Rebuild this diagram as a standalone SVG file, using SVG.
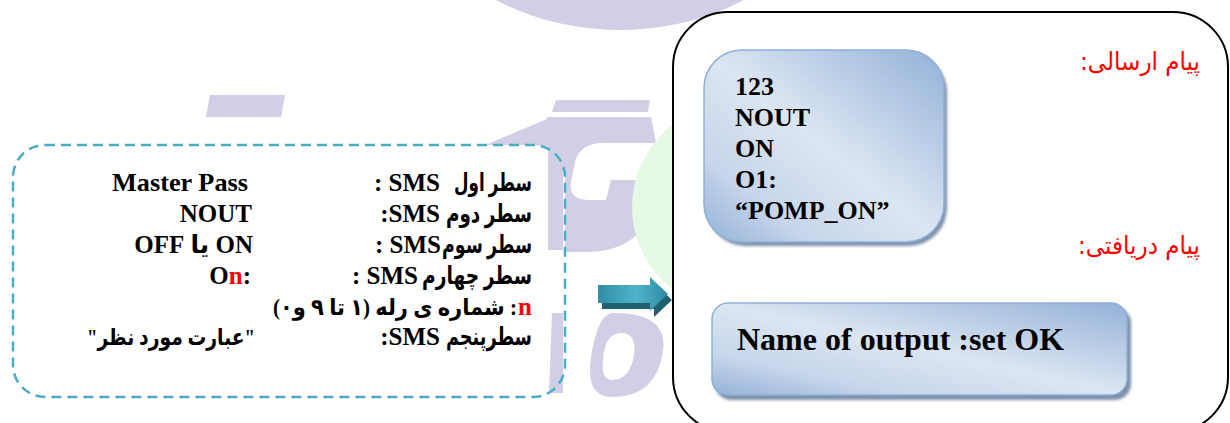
<svg xmlns="http://www.w3.org/2000/svg" width="1230" height="423" viewBox="0 0 1230 423">
  <defs>
    <style>
      .wm { fill: #d1cee5; }
      .wm-green { fill: #e6f9e4; }
      .lat { font-family: 'Liberation Serif', 'DejaVu Sans', serif; font-weight: bold; font-size: 25px; fill: #000; }
      .ar { font-family: 'Liberation Serif', 'DejaVu Sans', serif; font-weight: bold; font-size: 25px; fill: #000; direction: rtl; unicode-bidi: embed; }
      .ar-sm { font-size: 23px; }
      .lbl { font-family: 'DejaVu Sans', 'Liberation Sans', sans-serif; font-size: 25px; fill: #ff0000; direction: rtl; unicode-bidi: embed; }
      .red { fill: #ff0000; }
      .dash-box { fill: #ffffff; stroke: none; }
      .dash-line { fill: none; stroke: #4aadc6; stroke-width: 2.5; stroke-dasharray: 10 6; }
      .frame { fill: #ffffff; stroke: #000; stroke-width: 2; }
      .bubble { fill: url(#blueGrad); stroke: #8fb0d8; stroke-width: 1.5; }
      .shadow { fill: #7e90aa; filter: url(#soft); }
      .msg { font-family: 'Liberation Serif', serif; font-weight: bold; font-size: 26px; fill: #000; }
      .msg-lg { font-family: 'Liberation Serif', serif; font-weight: bold; font-size: 32px; fill: #000; }
    </style>
    <linearGradient id="blueGrad" x1="1" y1="0" x2="0" y2="1">
      <stop offset="0" stop-color="#93b1d8"/>
      <stop offset="0.5" stop-color="#dce6f2"/>
      <stop offset="0.78" stop-color="#c6d5ea"/>
      <stop offset="1" stop-color="#93b1d8"/>
    </linearGradient>
    <linearGradient id="arrowFace" x1="0" y1="0" x2="1" y2="0">
      <stop offset="0" stop-color="#2f8ea6"/>
      <stop offset="0.55" stop-color="#4fb4ca"/>
      <stop offset="1" stop-color="#2d8aa2"/>
    </linearGradient>
    <filter id="soft" x="-5%" y="-5%" width="110%" height="115%">
      <feGaussianBlur stdDeviation="1.5"/>
    </filter>
  </defs>

  <!-- faint background logo -->
  <g id="watermark">
    <ellipse class="wm" cx="620" cy="-160" rx="230" ry="190"/>
    <polygon class="wm" points="210,95 285,95 281,117 206,117"/>
    <polygon class="wm" points="556,100 650,100 648,112 552,112"/>
    <polygon class="wm" points="483,146 547,119 547,146"/>
    <path class="wm" d="M547,117 H651 L656,143 H603 Q580,143 575,162 L571,182 Q568,200 590,200 H606 L611,180 H658 L652,208 Q640,250 590,252 H562 L547,252 Z"/>
    <circle class="wm-green" cx="736" cy="207" r="104"/>
    <path class="wm" fill-rule="evenodd" d="M613,313 Q668,313 663,350 Q657,397 612,397 Q585,397 591,357 Q598,313 613,313 Z M621,333 Q605,333 603,360 Q601,380 612,380 Q630,380 634,355 Q637,333 621,333 Z"/>
  </g>

  <!-- SMS format description -->
  <g id="format-box">
    <rect class="dash-box" x="13" y="145" width="552" height="252" rx="32" ry="32"/>
    <!-- logo pieces showing through near the right edge -->
    <polygon class="wm" points="548,148 563,148 563,250 548,250"/>
    <polygon class="wm" points="552,313 563,313 563,393 549,393"/>
    <rect class="dash-line" x="13" y="145" width="552" height="252" rx="32" ry="32"/>

    <!-- values column -->
    <text class="lat" x="248" y="191" text-anchor="end" textLength="136" lengthAdjust="spacingAndGlyphs">Master Pass</text>
    <text class="lat" x="252" y="222" text-anchor="end">NOUT</text>
    <text class="ar" x="253" y="253" text-anchor="start">ON یا OFF</text>
    <text class="lat" x="251" y="284" text-anchor="end">O<tspan class="red">n</tspan>:</text>
    <text class="ar ar-sm" x="255" y="345" text-anchor="start" textLength="168" lengthAdjust="spacingAndGlyphs">"عبارت مورد نظر"</text>

    <!-- line names column -->
    <text class="ar" x="532" y="191" text-anchor="start" textLength="78" lengthAdjust="spacingAndGlyphs">سطر اول</text>
    <text class="lat" x="440" y="191" text-anchor="end">: SMS</text>

    <text class="ar" x="532" y="222" text-anchor="start" textLength="86" lengthAdjust="spacingAndGlyphs">سطر دوم</text>
    <text class="lat" x="440" y="222" text-anchor="end">:SMS</text>

    <text class="ar" x="532" y="253" text-anchor="start" textLength="90" lengthAdjust="spacingAndGlyphs">سطر سوم</text>
    <text class="lat" x="441" y="253" text-anchor="end">: SMS</text>

    <text class="ar" x="532" y="284" text-anchor="start" textLength="110" lengthAdjust="spacingAndGlyphs">سطر چهارم</text>
    <text class="lat" x="418" y="284" text-anchor="end">: SMS</text>

    <text class="lat red" x="532" y="315" text-anchor="end">n</text>
    <text class="ar ar-sm" x="517" y="315" text-anchor="start" textLength="244" lengthAdjust="spacingAndGlyphs">: شماره ی رله (۱ تا ۹ و۰)</text>

    <text class="ar" x="532" y="345" text-anchor="start" textLength="86" lengthAdjust="spacingAndGlyphs">سطرپنجم</text>
    <text class="lat" x="440" y="345" text-anchor="end">:SMS</text>
  </g>

  <g id="connectors">
    <!-- extruded block arrow -->
    <path d="M602,291 H654 V283 L672,300 L654,317 V309 H602 Z" fill="#22606f"/>
    <path d="M598,285 H650 V277 L668,294 L650,311 V303 H598 Z" fill="url(#arrowFace)"/>
  </g>

  <!-- message exchange panel -->
  <g id="message-panel">
    <rect class="frame" x="673" y="12" width="555" height="420" rx="55" ry="55"/>
  </g>

  <g id="sent-label">
    <text class="lbl" x="1200" y="70" text-anchor="start" textLength="120" lengthAdjust="spacingAndGlyphs">پیام ارسالی:</text>
  </g>

  <g id="sent-message">
    <rect class="shadow" x="707" y="54" width="240" height="192" rx="38" ry="38"/>
    <rect class="bubble" x="704" y="50" width="240" height="192" rx="38" ry="38"/>
    <text class="msg" x="735" y="95">123</text>
    <text class="msg" x="735" y="126">NOUT</text>
    <text class="msg" x="735" y="157">ON</text>
    <text class="msg" x="735" y="188">O1:</text>
    <text class="msg" x="735" y="219">“POMP_ON”</text>
  </g>

  <g id="received-label">
    <text class="lbl" x="1200" y="254" text-anchor="start" textLength="122" lengthAdjust="spacingAndGlyphs">پیام دریافتی:</text>
  </g>

  <g id="received-message">
    <rect class="shadow" x="715" y="307" width="416" height="93" rx="16" ry="16"/>
    <rect class="bubble" x="712" y="303" width="415" height="92" rx="16" ry="16"/>
    <text class="msg-lg" x="737" y="350">Name of output :set OK</text>
  </g>
</svg>
